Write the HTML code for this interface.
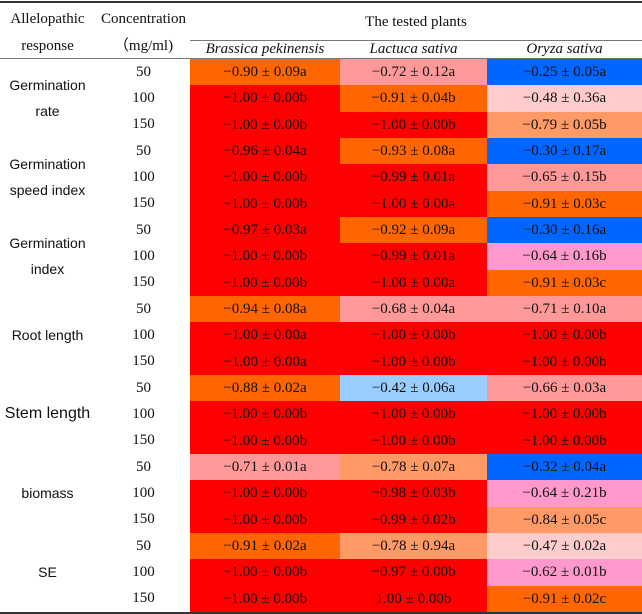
<!DOCTYPE html>
<html><head><meta charset="utf-8"><style>
body{margin:0;width:642px;height:614px;background:#fff;position:relative;overflow:hidden;font-family:"Liberation Serif",serif;color:#111}
.a{position:absolute;display:flex;align-items:center;justify-content:center;text-align:center;box-sizing:border-box}
.ln{position:absolute;background:#333}
.lab{font-family:"Liberation Sans",sans-serif;font-size:14px;line-height:26px}
</style></head><body>
<div class="ln" style="left:0;top:1px;width:642px;height:1.5px"></div>
<div class="ln" style="left:190px;top:40px;width:452px;height:1px;background:#777"></div>
<div class="ln" style="left:0;top:58px;width:642px;height:1px;background:#777"></div>
<div class="ln" style="left:0;top:612px;width:642px;height:1.5px"></div>
<div class="a" style="left:0;top:7px;width:95px;height:52px;font-size:15px;line-height:27px">Allelopathic<br>response</div>
<div class="a" style="left:95px;top:7px;width:97px;height:52px;font-size:15px;line-height:27px">Concentration<br>（mg/ml)</div>
<div class="a" style="left:190px;top:5px;width:452px;height:34px;font-size:15px">The tested plants</div>
<div class="a" style="left:190px;top:40px;width:150px;height:18px;font-size:15px;font-style:italic">Brassica pekinensis</div>
<div class="a" style="left:340px;top:40px;width:147px;height:18px;font-size:15px;font-style:italic">Lactuca sativa</div>
<div class="a" style="left:487px;top:40px;width:155px;height:18px;font-size:15px;font-style:italic">Oryza sativa</div>
<div id="grid"></div>
<script>
const groups=["Germination<br>rate","Germination<br>speed index","Germination<br>index","Root length","Stem length","biomass","SE"];
const concs=["50","100","150"];
const brassica=["−0.90 ± 0.09a","−1.00 ± 0.00b","−1.00 ± 0.00b","−0.96 ± 0.04a","−1.00 ± 0.00b","−1.00 ± 0.00b","−0.97 ± 0.03a","−1.00 ± 0.00b","−1.00 ± 0.00b","−0.94 ± 0.08a","−1.00 ± 0.00a","−1.00 ± 0.00a","−0.88 ± 0.02a","−1.00 ± 0.00b","−1.00 ± 0.00b","−0.71 ± 0.01a","−1.00 ± 0.00b","−1.00 ± 0.00b","−0.91 ± 0.02a","−1.00 ± 0.00b","−1.00 ± 0.00b"];
const lactuca=["−0.72 ± 0.12a","−0.91 ± 0.04b","−1.00 ± 0.00b","−0.93 ± 0.08a","−0.99 ± 0.01a","−1.00 ± 0.00a","−0.92 ± 0.09a","−0.99 ± 0.01a","−1.00 ± 0.00a","−0.68 ± 0.04a","−1.00 ± 0.00b","−1.00 ± 0.00b","−0.42 ± 0.06a","−1.00 ± 0.00b","−1.00 ± 0.00b","−0.78 ± 0.07a","−0.98 ± 0.03b","−0.99 ± 0.02b","−0.78 ± 0.94a","−0.97 ± 0.00b","1.00 ± 0.00b"];
const oryza=["−0.25 ± 0.05a","−0.48 ± 0.36a","−0.79 ± 0.05b","−0.30 ± 0.17a","−0.65 ± 0.15b","−0.91 ± 0.03c","−0.30 ± 0.16a","−0.64 ± 0.16b","−0.91 ± 0.03c","−0.71 ± 0.10a","−1.00 ± 0.00b","−1.00 ± 0.00b","−0.66 ± 0.03a","−1.00 ± 0.00b","−1.00 ± 0.00b","−0.32 ± 0.04a","−0.64 ± 0.21b","−0.84 ± 0.05c","−0.47 ± 0.02a","−0.62 ± 0.01b","−0.91 ± 0.02c"];
const colB=["#ff6600","#ff0000","#ff0000","#ff0000","#ff0000","#ff0000","#ff0000","#ff0000","#ff0000","#ff6600","#ff0000","#ff0000","#ff6600","#ff0000","#ff0000","#ff9999","#ff0000","#ff0000","#ff6600","#ff0000","#ff0000"];
const colL=["#ff9999","#ff6600","#ff0000","#ff6600","#ff0000","#ff0000","#ff6600","#ff0000","#ff0000","#ff9999","#ff0000","#ff0000","#99ccff","#ff0000","#ff0000","#ff9966","#ff0000","#ff0000","#ff9966","#ff0000","#ff0000"];
const colO=["#0066ff","#ffcccc","#ff9966","#0066ff","#ff9999","#ff6600","#0066ff","#ff99cc","#ff6600","#ff9999","#ff0000","#ff0000","#ff9999","#ff0000","#ff0000","#0066ff","#ff99cc","#ff9966","#ffcccc","#ff99cc","#ff6600"];
const top0=59,rh=26.33;
const g=document.getElementById('grid');
function div(css,html){const d=document.createElement('div');d.className='a';d.style.cssText=css;d.innerHTML=html;g.appendChild(d);return d;}
groups.forEach((name,i)=>{
  const d=div(`left:0;top:${top0+i*3*rh}px;width:95px;height:${3*rh}px;`+(name==="Stem length"?"font-size:16px;":""),name);
  d.classList.add('lab');
  
  
});
const cols=[[brassica,colB,190,150],[lactuca,colL,340,147],[oryza,colO,487,155]];
for(let r=0;r<21;r++){
  const y=top0+r*rh;
  const c=div(`left:95px;top:${y}px;width:97px;height:${rh}px;font-size:15px`,concs[r%3]);
  
  
  cols.forEach(([vals,colors,x,w])=>{
    const d=div(`left:${x}px;top:${y}px;width:${w}px;height:${rh+0.5}px;background:${colors[r]};font-size:15px`,vals[r]);
    
    
  });
}
</script>
</body></html>
